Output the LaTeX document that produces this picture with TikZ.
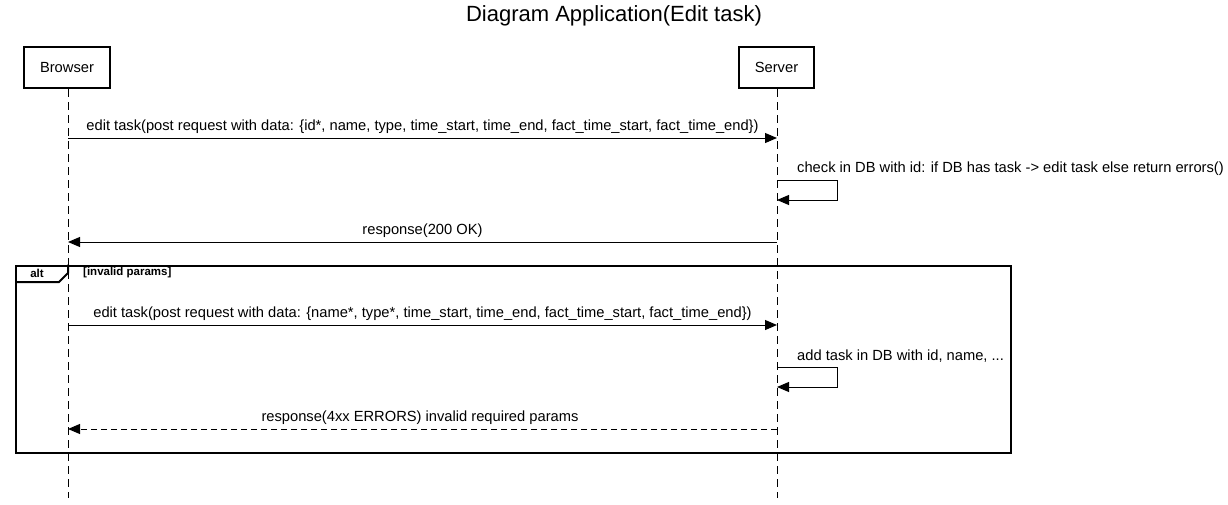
\documentclass[tikz,border=0pt]{standalone}
\usepackage{fontspec}
\setmainfont{Liberation Sans}
\usetikzlibrary{arrows.meta}
\tikzset{
  actorbox/.style={draw, line width=2.6pt, minimum width=#1, minimum height=41pt, inner sep=0pt, font=\fontsize{14.7}{17}\selectfont},
  lifeline/.style={line width=1pt, dash pattern=on 8pt off 5pt},
  msg/.style={line width=1pt, -{Triangle[length=12pt,width=10pt]}},
  retmsg/.style={msg, dash pattern=on 6pt off 4pt},
  msglabel/.style={inner sep=0pt, font=\fontsize{14.7}{17}\selectfont},
  framebox/.style={line width=2pt},
  framelabel/.style={inner sep=0pt, font=\bfseries\fontsize{11.5}{13}\selectfont},
}
\begin{document}
\begin{tikzpicture}[x=1pt,y=-1pt]
\useasboundingbox (0,0) rectangle (1228,504);
% title
\node[inner sep=0pt, font=\fontsize{22}{26}\selectfont] (title) at (614,16) {Diagram Application(Edit task)};
% participants
\node[actorbox=86pt] (browser) at (67,67.5) {Browser};
\node[actorbox=75pt] (server) at (776.5,67.5) {Server};
\coordinate (bEnd) at (68,498);
\coordinate (sEnd) at (777,498);
\draw[lifeline] (browser.south -| bEnd) -- (bEnd);
\draw[lifeline] (server.south -| sEnd) -- (sEnd);
% message 1
\coordinate (b1) at (68,138); \coordinate (s1) at (777,138);
\draw[msg] (b1) -- (s1);
\node[msglabel] (m1) at (422.5,127) {edit task(post request with data: \{id*, name, type, time\_start, time\_end, fact\_time\_start, fact\_time\_end\})};
% self message 1
\coordinate (s2a) at (777,180); \coordinate (s2b) at (837,180); \coordinate (s2c) at (837,200); \coordinate (s2d) at (777,200);
\draw[msg] (s2a) -- (s2b) -- (s2c) -- (s2d);
\node[msglabel, anchor=west] (m2) at (797,169) {check in DB with id: if DB has task -> edit task else return errors()};
% response 200
\coordinate (s3) at (777,242); \coordinate (b3) at (68,242);
\draw[msg] (s3) -- (b3);
\node[msglabel] (m3) at (422.5,231) {response(200 OK)};
% alt frame
\node[framebox, draw, minimum width=995pt, minimum height=187pt, inner sep=0pt, anchor=north west] (altframe) at (15,264.5) {};
\coordinate (p1) at (68,264.5); \coordinate (p2) at (68,273); \coordinate (p3) at (59,282); \coordinate (p4) at (15,282);
\draw[framebox, line join=miter] (p1) -- (p2) -- (p3) -- (p4);
\node[framelabel] (alt) at (37,273) {alt};
\node[framelabel, anchor=west] (guard) at (83,273) {[invalid params]};
% message 4
\coordinate (b4) at (68,325); \coordinate (s4) at (777,325);
\draw[msg] (b4) -- (s4);
\node[msglabel] (m4) at (422.5,314) {edit task(post request with data: \{name*, type*, time\_start, time\_end, fact\_time\_start, fact\_time\_end\})};
% self message 2
\coordinate (s5a) at (777,367); \coordinate (s5b) at (837,367); \coordinate (s5c) at (837,387); \coordinate (s5d) at (777,387);
\draw[msg] (s5a) -- (s5b) -- (s5c) -- (s5d);
\node[msglabel, anchor=west] (m5) at (797,356) {add task in DB with id, name, ...};
% response 4xx
\coordinate (s6) at (777,429); \coordinate (b6) at (68,429);
\draw[retmsg] (s6) -- (b6);
\node[msglabel] (m6) at (420,418) {response(4xx ERRORS) invalid required params};
\end{tikzpicture}
\end{document}
